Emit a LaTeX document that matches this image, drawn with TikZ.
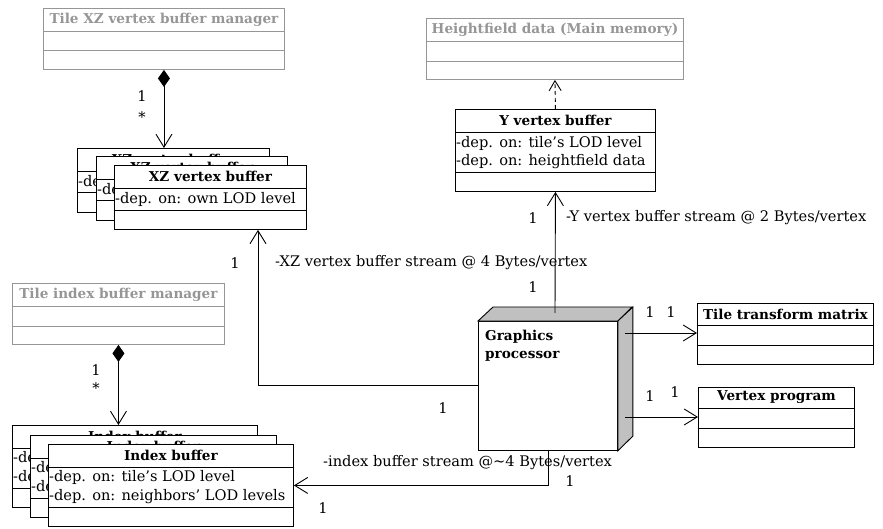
\documentclass[tikz,border=0pt]{standalone}
\usepackage{fontspec}
\setmainfont{DejaVu Serif}
\usetikzlibrary{arrows.meta,calc}

\definecolor{mgray}{RGB}{150,150,150}
\definecolor{gpgray}{RGB}{192,192,192}

\tikzset{
  base/.style={line width=0.9pt},
  grayed/.style={color=mgray},
  txt/.style={inner sep=0pt, font=\fontsize{14.6bp}{18bp}\selectfont},
  ttl/.style={inner sep=0pt, font=\fontsize{13.6bp}{18bp}\selectfont\bfseries},
  attr/.style={txt, anchor=west},
  assoc/.style={base, -{Straight Barb[length=13bp,width=16bp]}},
  comp/.style={base, {Diamond[length=17bp,width=12bp]}-{Straight Barb[length=13bp,width=16bp]}},
  dep/.style={base, dashed, dash pattern=on 4bp off 3bp, -{Straight Barb[length=10bp,width=12bp]}},
}

% UML class box: [colour style]{name}{top-left}{width}{title h}{attr h}{op h}{title}
\newcommand\classbox[8][]{%
  \node[draw, base, #1, fill=white, inner sep=0pt, anchor=north west,
        minimum width=#4bp, minimum height={(#5+#6+#7)*1bp}] (#2) at #3 {};
  \draw[base,#1] ($(#2.north west)+(0,#5)$) -- ++(#4,0);
  \draw[base,#1] ($(#2.north west)+(0,#5+#6)$) -- ++(#4,0);
  \node[ttl,#1] at ($(#2.north)+(0,#5/2)$) {#8};
}

\begin{document}
\begin{tikzpicture}[x=1bp,y=-1bp]
\useasboundingbox (0,0) rectangle (883,529);

% managers and heightfield store
\classbox[grayed]{xzmgr}{(43,8)}{241}{23}{19}{19}{Tile XZ vertex buffer manager}
\classbox[grayed]{idxmgr}{(12,283)}{212}{23}{20}{18}{Tile index buffer manager}
\classbox[grayed]{hf}{(426,18)}{257}{23}{20}{18}{Heightfield data (Main memory)}

% stacked XZ vertex buffers
\classbox{xza}{(77,148)}{192}{23}{21}{20}{XZ vertex buffer}
\node[attr] at ($(xza.north west)+(1,34)$) {-dep. on: own LOD level};
\classbox{xzb}{(96,156)}{191}{23}{21}{20}{XZ vertex buffer}
\node[attr] at ($(xzb.north west)+(1,34)$) {-dep. on: own LOD level};
\classbox{xzc}{(114,165)}{192}{23}{22}{19}{XZ vertex buffer}
\node[attr] at ($(xzc.north west)+(1,34)$) {-dep. on: own LOD level};

% stacked index buffers
\classbox{idxa}{(12,425)}{245}{23}{40}{19}{Index buffer}
\node[attr] at ($(idxa.north west)+(1,33)$) {-dep. on: tile's LOD level};
\node[attr] at ($(idxa.north west)+(1,53)$) {-dep. on: neighbors' LOD levels};
\classbox{idxb}{(30,435)}{246}{23}{40}{19}{Index buffer}
\node[attr] at ($(idxb.north west)+(1,33)$) {-dep. on: tile's LOD level};
\node[attr] at ($(idxb.north west)+(1,53)$) {-dep. on: neighbors' LOD levels};
\classbox{idxc}{(48,444)}{245}{23}{40}{19}{Index buffer}
\node[attr] at ($(idxc.north west)+(1,33)$) {-dep. on: tile's LOD level};
\node[attr] at ($(idxc.north west)+(1,53)$) {-dep. on: neighbors' LOD levels};

% Y vertex buffer
\classbox{yvb}{(455,109)}{200}{23}{40}{19}{Y vertex buffer}
\node[attr] at ($(yvb.north west)+(1,34)$) {-dep. on: tile's LOD level};
\node[attr] at ($(yvb.north west)+(1,53)$) {-dep. on: heightfield data};

% right-hand classes
\classbox{ttm}{(697,303)}{176}{22}{20}{19}{Tile transform matrix}
\classbox{vp}{(698,387)}{156}{21}{20}{19}{Vertex program}

% graphics processor (UML node, drawn as a box)
\node[draw, base, fill=white, inner sep=0pt, anchor=north west,
      minimum width=139bp, minimum height=129bp] (gp) at (478,321) {};
\draw[base, fill=gpgray] (gp.north west) -- ++(15,-14) -- ++(139,0) -- (gp.north east) -- cycle;
\draw[base, fill=gpgray] (gp.north east) -- ++(15,-14) -- ++(0,129) -- (gp.south east) -- cycle;
\node[ttl, anchor=north west, align=left] at ($(gp.north west)+(7,9)$) {Graphics\\processor};

% connection points on the processor
\coordinate (gptop) at (555,313);
\coordinate (gpleft) at (gp.west |- 0,385);
\coordinate (gpr1) at (625,333);
\coordinate (gpr2) at (625,417);
\coordinate (xzin) at (258,385);

% compositions
\draw[comp] (xzmgr.south) -- (xzmgr.south |- xza.north);
\draw[comp] (idxmgr.south) -- (idxmgr.south |- idxa.north);
\node[txt] at (142,96) {1};
\node[txt] at (142,117) {*};
\node[txt] at (96,370) {1};
\node[txt] at (96,388) {*};

% dependency on heightfield data
\draw[dep] (yvb.north) -- (hf.south);

% data streams
\draw[assoc] (gptop) -- (yvb.south);
\node[txt] at (533,218) {1};
\node[txt] at (533,287) {1};
\node[attr] at (566,218) {-Y vertex buffer stream @ 2 Bytes/vertex};

\draw[assoc] (gpleft) -- (xzin) -- (xzin |- xzc.south);
\node[txt] at (235,263) {1};
\node[txt] at (443,408) {1};
\node[attr] at (275,263) {-XZ vertex buffer stream @ 4 Bytes/vertex};

\draw[assoc] (gp.south) |- (idxc.east);
\node[txt] at (570,481) {1};
\node[txt] at (323,508) {1};
\node[attr] at (323,463) {-index buffer stream @\textasciitilde4 Bytes/vertex};

\draw[assoc] (gpr1) -- (gpr1 -| ttm.west);
\node[txt] at (650,312) {1};
\node[txt] at (671,312) {1};
\draw[assoc] (gpr2) -- (gpr2 -| vp.west);
\node[txt] at (650,396) {1};
\node[txt] at (675,392) {1};
\end{tikzpicture}
\end{document}
